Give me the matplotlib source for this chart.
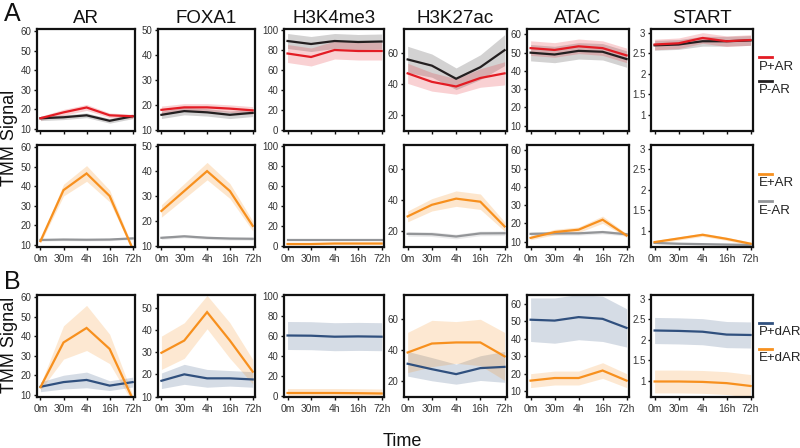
import matplotlib
matplotlib.use("Agg")
import matplotlib.pyplot as plt
from matplotlib.lines import Line2D
from matplotlib.ticker import FormatStrFormatter
import numpy as np

plt.rcParams['font.family'] = ['Liberation Sans', 'DejaVu Sans']

# ---------------- data ----------------
times = ['0m', '30m', '4h', '16h', '72h']
assays = ['AR', 'FOXA1', 'H3K4me3', 'H3K27ac', 'ATAC', 'START']

# Row A1: P+AR (red) and P-AR (black)
P_AR_mean = {'AR': [15.5, 18.5, 21, 17, 16.5], 'FOXA1': [18, 19, 19, 18.5, 17.8],
             'H3K4me3': [76.5, 73, 80, 79, 79], 'H3K27ac': [47, 41.5, 38.5, 44, 47],
             'ATAC': [52.5, 51.5, 53.5, 52.5, 48.5], 'START': [2.72, 2.75, 2.88, 2.8, 2.83]}
P_AR_err = {'AR': [1, 1.5, 1.5, 1.2, 1], 'FOXA1': [1.5, 1.5, 1.5, 1.5, 1.5],
            'H3K4me3': [9, 9, 9, 9, 9], 'H3K27ac': [6.5, 6, 5, 6, 7.5],
            'ATAC': [4, 4, 4, 4, 4], 'START': [0.13, 0.13, 0.13, 0.13, 0.13]}
P_noAR_mean = {'AR': [15.5, 16, 17, 14.2, 16.5], 'FOXA1': [16, 17.5, 17, 16, 16.8],
               'H3K4me3': [89, 86, 89, 88, 88.5], 'H3K27ac': [56, 52, 43.5, 51, 62],
               'ATAC': [50, 49, 51, 50.5, 46.5], 'START': [2.7, 2.72, 2.8, 2.8, 2.82]}
P_noAR_err = {'AR': [1.2, 1.2, 1.2, 1.2, 1.2], 'FOXA1': [1.5, 1.5, 1.5, 1.5, 1.5],
              'H3K4me3': [7.5, 7.5, 7.5, 7.5, 7.5], 'H3K27ac': [8.5, 7.5, 7, 8, 10],
              'ATAC': [4.5, 4.5, 4.5, 4.5, 4.5], 'START': [0.12, 0.12, 0.12, 0.12, 0.12]}

# Row A2: E+AR (orange) and E-AR (gray)
E_AR_mean = {'AR': [12, 38, 46.5, 35, 8], 'FOXA1': [24, 32, 40, 32, 18],
             'H3K4me3': [2, 2, 2.5, 2.5, 2.5], 'H3K27ac': [29.5, 37, 41, 39, 23],
             'ATAC': [12, 15.2, 16.5, 22, 13.3], 'START': [0.72, 0.81, 0.9, 0.8, 0.68]}
E_AR_err = {'AR': [1, 3, 4, 3, 1], 'FOXA1': [2.5, 3, 3.5, 3, 2],
            'H3K4me3': [1, 1, 1, 1, 1], 'H3K27ac': [3.5, 4, 5, 5, 3],
            'ATAC': [1, 1.5, 1.5, 2, 1], 'START': [0.04, 0.04, 0.04, 0.04, 0.04]}
E_noAR_mean = {'AR': [12.6, 12.8, 12.7, 12.8, 13.4], 'FOXA1': [13.2, 13.8, 13.2, 12.9, 12.8],
               'H3K4me3': [6, 6, 6, 6, 6], 'H3K27ac': [18.2, 18, 16.5, 18.5, 18.6],
               'ATAC': [14.2, 14.5, 14.5, 15.2, 14], 'START': [0.7, 0.68, 0.67, 0.66, 0.65]}
E_noAR_err = {'AR': [0.6, 0.6, 0.6, 0.6, 0.6], 'FOXA1': [0.6, 0.6, 0.6, 0.6, 0.6],
              'H3K4me3': [1.2, 1.2, 1.2, 1.2, 1.2], 'H3K27ac': [1.5, 1.5, 1.5, 1.5, 1.5],
              'ATAC': [1, 1, 1, 1, 1], 'START': [0.02, 0.02, 0.02, 0.02, 0.02]}

# Row B: P+dAR (blue) and E+dAR (orange)
P_dAR_mean = {'AR': [14.2, 16.6, 17.7, 14.8, 16.6], 'FOXA1': [17.1, 20, 18.2, 18.2, 17.7],
              'H3K4me3': [60.5, 60.3, 59.3, 59.6, 59.3], 'H3K27ac': [31.2, 27.7, 24.5, 28.4, 29.2],
              'ATAC': [51, 50.5, 52.5, 51.5, 46.3], 'START': [2.23, 2.22, 2.2, 2.13, 2.12]}
P_dAR_err = {'AR': [2.5, 3.5, 4, 2.5, 2.5], 'FOXA1': [3.5, 4.5, 4, 3.5, 3.5],
             'H3K4me3': [14, 14, 14, 14, 14], 'H3K27ac': [8, 7.5, 6.5, 8, 10],
             'ATAC': [12.5, 13, 13, 13, 11], 'START': [0.32, 0.32, 0.32, 0.32, 0.32]}
E_dAR_mean = {'AR': [14, 36.8, 44.2, 33.5, 8], 'FOXA1': [29.7, 35.2, 48, 35.2, 21.2],
              'H3K4me3': [3, 3, 3, 2.8, 2.5], 'H3K27ac': [38.5, 44.3, 45, 45, 36],
              'ATAC': [16, 17.5, 17.5, 21.8, 16], 'START': [0.98, 0.98, 0.97, 0.94, 0.87]}
E_dAR_err = {'AR': [1.5, 8.5, 11.5, 7.5, 2], 'FOXA1': [7.5, 8, 7.5, 8, 5.5],
             'H3K4me3': [4.5, 4.5, 4.5, 4.5, 4.5], 'H3K27ac': [13, 15, 13.5, 15, 15.5],
             'ATAC': [4, 4, 4, 4.5, 4], 'START': [0.28, 0.28, 0.28, 0.28, 0.28]}

# axis tick values per assay
yticks = {'AR': [10, 20, 30, 40, 50, 60], 'FOXA1': [10, 20, 30, 40, 50],
          'H3K4me3': [0, 20, 40, 60, 80, 100], 'H3K27ac': [20, 40, 60],
          'ATAC': [10, 20, 30, 40, 50, 60], 'START': [1, 1.5, 2, 2.5, 3]}

# ---------------- style / layout ----------------
C_RED, C_BLACK = '#e31c24', '#231f20'
C_ORANGE, C_GRAY = '#f7901e', '#939598'
C_BLUE = '#30507e'

ylims = [
    {'AR': (9, 61), 'FOXA1': (9.5, 50.5), 'H3K4me3': (-1, 101), 'H3K27ac': (9.7, 75.7),
     'ATAC': (7, 63), 'START': (0.6, 3.1)},
    {'AR': (9, 61), 'FOXA1': (9.5, 50.5), 'H3K4me3': (-1, 101), 'H3K27ac': (9.7, 75.7),
     'ATAC': (7, 63), 'START': (0.6, 3.1)},
    {'AR': (9, 61), 'FOXA1': (9.8, 55.7), 'H3K4me3': (-1, 101), 'H3K27ac': (9.7, 75.7),
     'ATAC': (6.6, 65.2), 'START': (0.6, 3.1)},
]

rows = [
    [(P_noAR_mean, P_noAR_err, C_BLACK, 0.2), (P_AR_mean, P_AR_err, C_RED, 0.2)],
    [(E_noAR_mean, E_noAR_err, C_GRAY, 0.2), (E_AR_mean, E_AR_err, C_ORANGE, 0.22)],
    [(P_dAR_mean, P_dAR_err, C_BLUE, 0.2), (E_dAR_mean, E_dAR_err, C_ORANGE, 0.2)],
]

W, H = 800, 448
lefts = [37, 158, 284, 404, 527, 651]
widths = [98, 97, 100, 103, 102, 102]
tops = [29, 145, 295]
ph = 102

fig = plt.figure(figsize=(W / 100, H / 100), dpi=100)
x = np.arange(len(times))

for r in range(3):
    for c, assay in enumerate(assays):
        ax = fig.add_axes([lefts[c] / W, 1 - (tops[r] + ph) / H, widths[c] / W, ph / H])
        for mean_d, err_d, col, alpha in rows[r]:
            m = np.array(mean_d[assay], dtype=float)
            e = np.array(err_d[assay], dtype=float)
            ax.fill_between(x, m - e, m + e, color=col, alpha=alpha, lw=0)
            ax.plot(x, m, color=col, lw=1.6, solid_joinstyle='miter')
        ax.set_xlim(-0.15, 4.1)
        ax.set_ylim(*ylims[r][assay])
        ax.set_xticks(x)
        ax.set_yticks(yticks[assay])
        ax.yaxis.set_major_formatter(FormatStrFormatter('%g'))
        if r == 0:
            ax.set_xticklabels([])
            ax.set_title(assay, fontsize=13.5, pad=4, color='#111111')
        else:
            ax.set_xticklabels(times)
        for s in ax.spines.values():
            s.set_linewidth(1.6)
            s.set_color('#111111')
        ax.tick_params(axis='both', direction='out', length=2.5, width=1,
                       labelsize=7, labelcolor='#333333', pad=1.5, color='#111111')
        ax.tick_params(axis='x', labelsize=7.5, pad=2.5)

# legends
legend_items = [
    [(C_RED, 'P+AR', 57, 67), (C_BLACK, 'P-AR', 81, 90)],
    [(C_ORANGE, 'E+AR', 174, 183), (C_GRAY, 'E-AR', 201, 211)],
    [(C_BLUE, 'P+dAR', 323, 332), (C_ORANGE, 'E+dAR', 349, 358)],
]
for items in legend_items:
    for col, lab, ly, ty in items:
        fig.add_artist(Line2D([759 / W, 772 / W], [1 - ly / H, 1 - ly / H],
                              transform=fig.transFigure, color=col, lw=2))
        fig.text(759 / W, 1 - ty / H, lab, fontsize=9.5, va='center', ha='left',
                 color='#222222')

fig.text(10 / W, 1 - 138 / H, 'TMM Signal', rotation=90, fontsize=13,
         va='center', ha='center', color='#111111')
fig.text(10 / W, 1 - 345 / H, 'TMM Signal', rotation=90, fontsize=13,
         va='center', ha='center', color='#111111')
fig.text(12 / W, 1 - 14 / H, 'A', fontsize=18, va='center', ha='center', color='#111111')
fig.text(12 / W, 1 - 282 / H, 'B', fontsize=18, va='center', ha='center', color='#111111')
fig.text(402 / W, 1 - 441 / H, 'Time', fontsize=13, va='center', ha='center', color='#111111')

fig.savefig('out.png', dpi=100)
